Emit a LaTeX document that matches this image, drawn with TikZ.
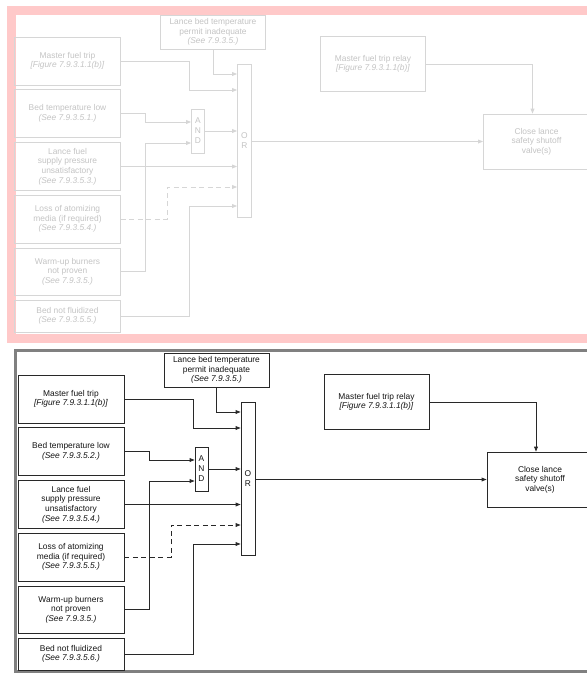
\documentclass[tikz,border=0pt]{standalone}
\usepackage{fontspec}
\setmainfont{Liberation Sans}
\usetikzlibrary{arrows.meta,calc}
\definecolor{pinkband}{RGB}{255,201,201}
\definecolor{fadeline}{RGB}{214,214,214}
\definecolor{fadetext}{RGB}{196,196,196}
\definecolor{darkline}{RGB}{40,40,40}
\definecolor{darktext}{RGB}{20,20,20}
\definecolor{framegray}{RGB}{128,128,128}
\tikzset{
  box/.style={ln, tx, align=center, inner sep=0pt, font=\fontsize{8.4}{9.6}\selectfont},
  gate/.style={ln, tx, align=center, inner sep=0pt, font=\fontsize{8.4}{10}\selectfont},
  arr/.style={ln, -{Triangle[length=5pt,width=3.8pt]}},
  dsh/.style={dash pattern=on 5pt off 3.5pt},
}
\newcommand\drawpanel[5]{%
  \node[box, minimum width=105pt, minimum height=34pt] (#1LB) at (216.5,32) {Lance bed temperature\\permit inadequate\\\textit{(See 7.9.3.5.)}};
  \node[box, minimum width=106pt, minimum height=48pt] (#1MF) at (71,61) {Master fuel trip\\\textit{[Figure 7.9.3.1.1(b)]}};
  \node[box, minimum width=106pt, minimum height=48pt] (#1BT) at (71,113.5) {Bed temperature low\\\textit{(See #2)}};
  \node[box, minimum width=106pt, minimum height=48pt] (#1LF) at (71,166.5) {Lance fuel\\supply pressure\\unsatisfactory\\\textit{(See #3)}};
  \node[box, minimum width=106pt, minimum height=48pt] (#1LA) at (71,219) {Loss of atomizing\\media (if required)\\\textit{(See #4)}};
  \node[box, minimum width=106pt, minimum height=47pt] (#1WU) at (71,271.5) {Warm-up burners\\not proven\\\textit{(See 7.9.3.5.)}};
  \node[box, minimum width=106pt, minimum height=32pt] (#1BN) at (71,316) {Bed not fluidized\\\textit{(See #5)}};
  \node[gate, minimum width=13pt, minimum height=44pt] (#1AND) at (201.5,131) {A\\N\\D};
  \node[gate, minimum width=14pt, minimum height=153pt] (#1OR) at (248,140.5) {O\\R};
  \node[box, minimum width=105pt, minimum height=55pt] (#1RL) at (376.5,64) {Master fuel trip relay\\\textit{[Figure 7.9.3.1.1(b)]}};
  \node[box, minimum width=106pt, minimum height=55pt] (#1CL) at (540,141.5) {Close lance\\safety shutoff\\valve(s)};
  \coordinate (#1kLB) at (217,74);
  \coordinate (#1kMF) at (193,90);
  \coordinate (#1kBT) at (149,122);
  \coordinate (#1kWU) at (149,143);
  \coordinate (#1kLA) at (171,187);
  \coordinate (#1kBN) at (193,206);
  \draw[arr] (#1LB.south) |- (#1OR.west |- #1kLB);
  \draw[arr] (#1MF.east) -| (#1kMF) -- (#1OR.west |- #1kMF);
  \draw[arr] (#1BT.east) -| (#1kBT) -- (#1AND.west |- #1kBT);
  \draw[arr] (#1WU.east) -| (#1kWU) -- (#1AND.west |- #1kWU);
  \draw[arr] (#1AND.east) -- (#1OR.west |- #1AND.east);
  \draw[arr] (#1LF.east) -- (#1OR.west |- #1LF.east);
  \draw[arr, dsh] (#1LA.east) -| (#1kLA) -- (#1OR.west |- #1kLA);
  \draw[arr] (#1BN.east) -| (#1kBN) -- (#1OR.west |- #1kBN);
  \draw[arr] (#1OR.east |- #1CL.west) -- (#1CL.west);
  \draw[arr] (#1RL.east) -| ([xshift=-4pt]#1CL.north);
}
\begin{document}
\begin{tikzpicture}[x=1pt,y=-1pt]
  \useasboundingbox (0,0) rectangle (587,673);
  \fill[white] (0,0) rectangle (587,673);
  % top faded panel
  \draw[pinkband, line width=9pt] (600,10.5) -- (11,10.5) -- (11,338) -- (600,338);
  \begin{scope}[shift={(-3.5,0)}, ln/.style={draw=fadeline, line width=0.8pt}, tx/.style={text=fadetext}]
    \drawpanel{t}{7.9.3.5.1.}{7.9.3.5.3.}{7.9.3.5.4.}{7.9.3.5.5.}
  \end{scope}
  % bottom panel
  \draw[framegray, line width=3pt] (600,350.5) -- (15.5,350.5) -- (15.5,671.5) -- (600,671.5);
  \begin{scope}[shift={(0,338)}, ln/.style={draw=darkline, line width=0.8pt}, tx/.style={text=darktext}]
    \drawpanel{b}{7.9.3.5.2.}{7.9.3.5.4.}{7.9.3.5.5.}{7.9.3.5.6.}
  \end{scope}
\end{tikzpicture}
\end{document}
